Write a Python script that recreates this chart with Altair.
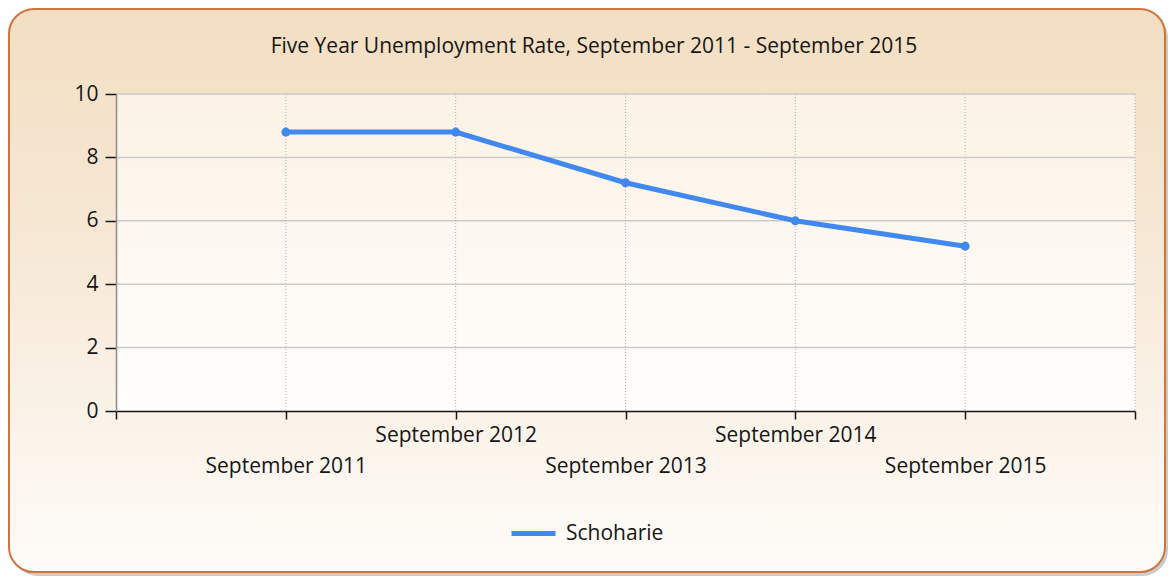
import json
import altair as alt
import pandas as pd

# ---- data ----
periods = ["September 2011", "September 2012", "September 2013", "September 2014", "September 2015"]
rates = [8.8, 8.8, 7.2, 6.0, 5.2]
series_name = "Schoharie"
y_ticks = [0, 2, 4, 6, 8, 10]
x_ticks = [0, 1, 2, 3, 4, 5, 6]
title_text = "Five Year Unemployment Rate, September 2011 - September 2015"

FONT = "Open Sans"
LINE_COLOR = "#4189ee"
TEXT_COLOR = "#161616"
FS = 21

W, H = 1019, 317
PAD = {"left": 108, "top": 86, "right": 33, "bottom": 167}

df = pd.DataFrame({
    "pos": list(range(1, len(periods) + 1)),
    "period": periods,
    "rate": rates,
    "series": [series_name] * len(periods),
})
one = pd.DataFrame({"k": [0]})
hgrid = pd.DataFrame({"v": y_ticks[1:]})
vgrid = pd.DataFrame({"v": x_ticks[1:]})

xscale = alt.Scale(domain=[0, 6], nice=False, zero=False)
yscale = alt.Scale(domain=[0, 10], nice=False)

# decorative frame (shadow + rounded gradient panel)
shadow = alt.Chart(one).mark_rect(cornerRadius=26, fill="#b9b4ae", opacity=0.7).encode(
    x=alt.value(-104), x2=alt.value(1052), y=alt.value(-82), y2=alt.value(482)
)
frame_grad = alt.Gradient(
    gradient="linear", x1=0, y1=0, x2=0, y2=1,
    stops=[
        alt.GradientStop(color="#f2dec2", offset=0),
        alt.GradientStop(color="#f7e9d7", offset=0.45),
        alt.GradientStop(color="#fefcf9", offset=1),
    ],
)
frame = alt.Chart(one).mark_rect(
    cornerRadius=25, fill=frame_grad, stroke="#cf7440", strokeWidth=2
).encode(
    x=alt.value(-107), x2=alt.value(1049), y=alt.value(-85), y2=alt.value(478)
)
plot_grad = alt.Gradient(
    gradient="linear", x1=0, y1=0, x2=0, y2=1,
    stops=[
        alt.GradientStop(color="#fbf2e5", offset=0),
        alt.GradientStop(color="#fffefd", offset=1),
    ],
)
plot_bg = alt.Chart(one).mark_rect(fill=plot_grad).encode(
    x=alt.value(0), x2=alt.value(W), y=alt.value(0), y2=alt.value(H)
)

title_mark = alt.Chart(one).mark_text(
    text=title_text, font=FONT, fontSize=FS, color=TEXT_COLOR,
    align="center", baseline="middle",
).encode(x=alt.value(478), y=alt.value(-47))

hrules = alt.Chart(hgrid).mark_rule(color="#cccccc", strokeWidth=1.5).encode(
    y=alt.Y("v:Q", scale=yscale)
)
vrules = alt.Chart(vgrid).mark_rule(color="#b0b0b0", strokeWidth=1, strokeDash=[1, 2]).encode(
    x=alt.X("v:Q", scale=xscale)
)

arr = json.dumps(periods)
label_expr = (
    f"datum.value < 1 || datum.value > 5 ? '' : "
    f"(datum.value % 2 == 1 ? [' ', {arr}[datum.value - 1]] : {arr}[datum.value - 1])"
)

line = alt.Chart(df).mark_line(
    strokeWidth=5, point=alt.OverlayMarkDef(size=80, filled=True, color=LINE_COLOR)
).encode(
    x=alt.X("pos:Q", scale=xscale, title=None, axis=alt.Axis(
        values=x_ticks, title=None, grid=False, labelExpr=label_expr,
        labelLineHeight=31, labelOverlap=False, labelFlush=False,
        labelPadding=5, tickSize=8, tickColor=TEXT_COLOR, tickWidth=1.5,
        domainColor=TEXT_COLOR, domainWidth=1.5, labelBaseline="top",
        zindex=1,
    )),
    y=alt.Y("rate:Q", scale=yscale, title=None, axis=alt.Axis(
        values=y_ticks, title=None, grid=False, tickSize=11,
        tickColor=TEXT_COLOR, tickWidth=1.5, domainColor="#8c8c8c",
        domainWidth=1.5, labelPadding=7, zindex=1,
    )),
    color=alt.Color("series:N", scale=alt.Scale(range=[LINE_COLOR]), legend=alt.Legend(
        title=None, orient="none", legendX=393, legendY=415,
        symbolType="stroke", symbolSize=1936, symbolStrokeWidth=5,
        labelOffset=8, padding=0, zindex=1,
    )),
)

chart = alt.layer(shadow, frame, plot_bg, title_mark, hrules, vrules, line).properties(
    width=W, height=H,
    padding=PAD,
    autosize=alt.AutoSizeParams(type="none"),
).configure(background="white").configure_axis(
    labelFont=FONT, labelFontSize=FS, labelColor=TEXT_COLOR,
).configure_legend(
    labelFont=FONT, labelFontSize=FS, labelColor=TEXT_COLOR,
).configure_view(stroke=None)

chart.save("out.html", embed_options={"renderer": "svg", "actions": False})
